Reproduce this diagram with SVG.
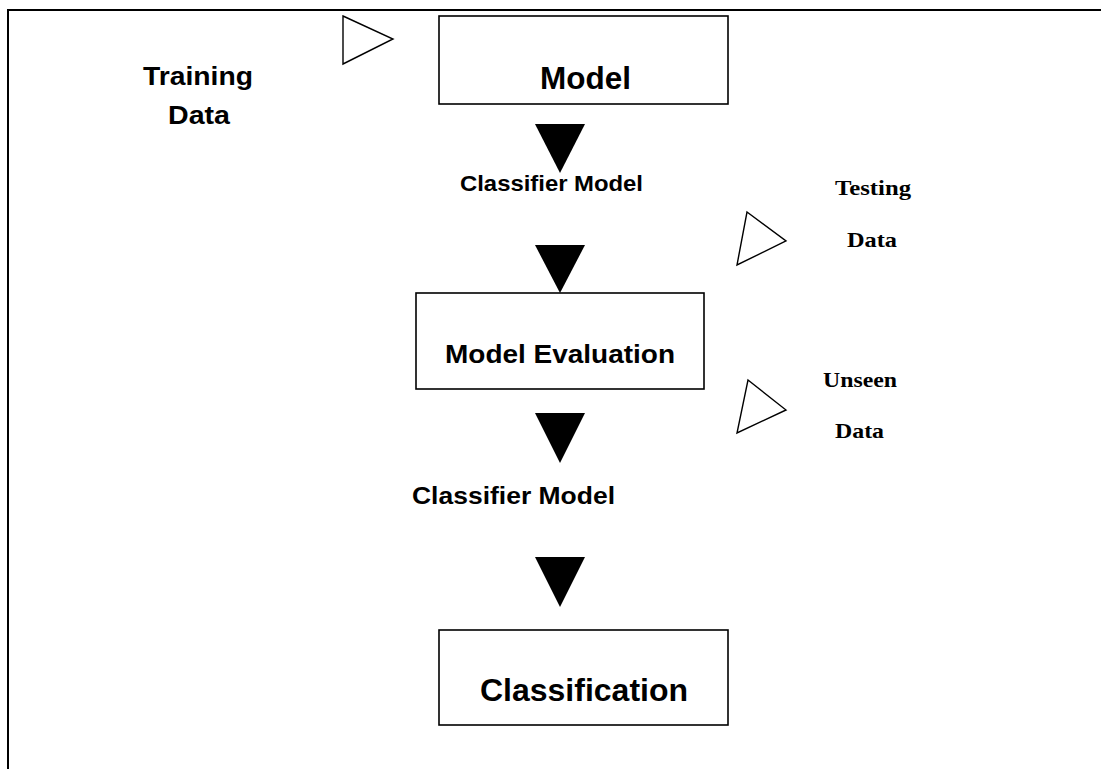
<svg xmlns="http://www.w3.org/2000/svg" width="1101" height="769" viewBox="0 0 1101 769">
  <style>
    .frame { fill: none; stroke: #000; stroke-width: 2; }
    .box { fill: #fff; stroke: #000; stroke-width: 1.6; }
    .in { fill: #fff; stroke: #000; stroke-width: 1.4; stroke-linejoin: miter; }
    .flow { fill: #000; stroke: none; }
    .sans { font-family: "Liberation Sans", Arial, sans-serif; font-weight: bold; fill: #000; }
    .serif { font-family: "Liberation Serif", "Times New Roman", serif; font-weight: bold; fill: #000; }
  </style>

  <rect width="1101" height="769" fill="#fff"/>

  <!-- page frame: top and left rules -->
  <path class="frame" d="M8 769 V10 H1101"/>

  <!-- data inputs -->
  <g id="training-data">
    <polygon class="in" points="343,16 393,39 343,64"/>
    <text class="sans" x="143" y="85" font-size="26" textLength="110" lengthAdjust="spacingAndGlyphs">Training</text>
    <text class="sans" x="168" y="124" font-size="26" textLength="62" lengthAdjust="spacingAndGlyphs">Data</text>
  </g>

  <g id="testing-data">
    <polygon class="in" points="747,212 786,241 737,265"/>
    <text class="serif" x="835" y="195" font-size="22" textLength="76" lengthAdjust="spacingAndGlyphs">Testing</text>
    <text class="serif" x="847" y="247" font-size="22" textLength="50" lengthAdjust="spacingAndGlyphs">Data</text>
  </g>

  <g id="unseen-data">
    <polygon class="in" points="748,380 786,410 737,433"/>
    <text class="serif" x="823" y="387" font-size="22" textLength="74" lengthAdjust="spacingAndGlyphs">Unseen</text>
    <text class="serif" x="835" y="438" font-size="22" textLength="49" lengthAdjust="spacingAndGlyphs">Data</text>
  </g>

  <!-- process steps -->
  <g id="model">
    <rect class="box" x="439" y="16" width="289" height="88"/>
    <text class="sans" x="540" y="89" font-size="31" textLength="91" lengthAdjust="spacingAndGlyphs">Model</text>
  </g>

  <g id="model-evaluation">
    <rect class="box" x="416" y="293" width="288" height="96"/>
    <text class="sans" x="445" y="363" font-size="26" textLength="230" lengthAdjust="spacingAndGlyphs">Model Evaluation</text>
  </g>

  <g id="classification">
    <rect class="box" x="439" y="630" width="289" height="95"/>
    <text class="sans" x="480" y="701" font-size="31" textLength="208" lengthAdjust="spacingAndGlyphs">Classification</text>
  </g>

  <!-- flow arrows between steps -->
  <g id="connectors">
    <polygon class="flow" points="535,124 585,124 560,173"/>
    <polygon class="flow" points="535,245 585,245 560,293"/>
    <polygon class="flow" points="535,413 585,413 560,463"/>
    <polygon class="flow" points="535,557 585,557 560,607"/>
  </g>

  <g id="classifier-model-1">
    <text class="sans" x="460" y="191" font-size="22" textLength="183" lengthAdjust="spacingAndGlyphs">Classifier Model</text>
  </g>

  <g id="classifier-model-2">
    <text class="sans" x="412" y="504" font-size="24" textLength="203" lengthAdjust="spacingAndGlyphs">Classifier Model</text>
  </g>
</svg>
